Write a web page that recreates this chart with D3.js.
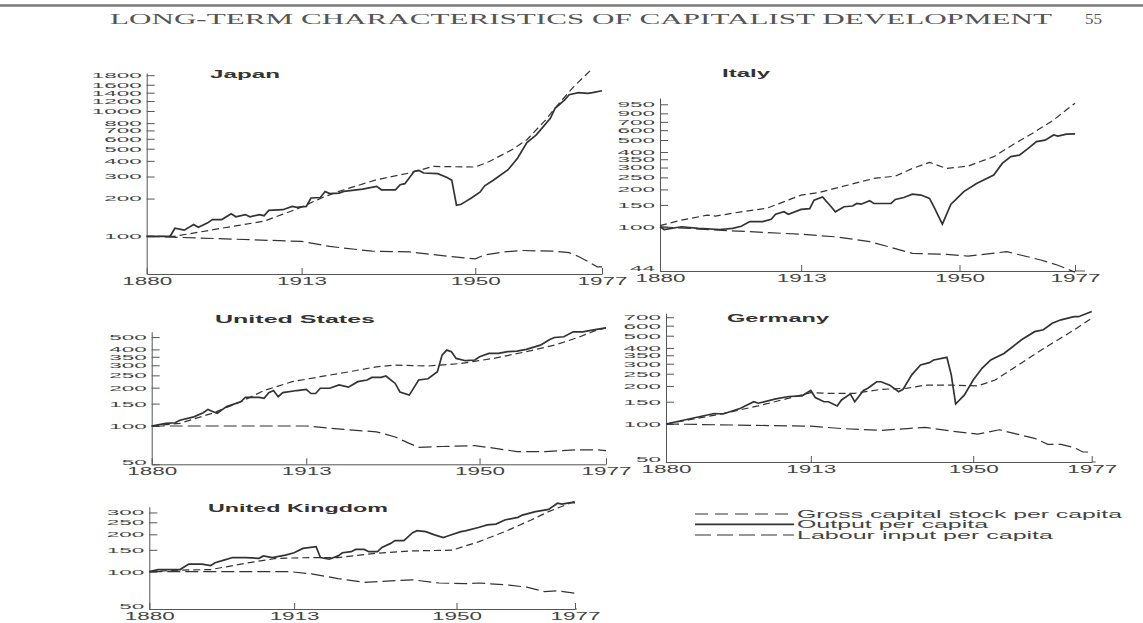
<!DOCTYPE html>
<html>
<head>
<meta charset="utf-8">
<script src="https://cdn.jsdelivr.net/npm/d3@7"></script>
<style>
  body { margin: 0; background: #fff; }
</style>
</head>
<body>
<svg id="chart" width="1143" height="623"></svg>
<script>
// ---- data (index 1880 = 100) ----
var years = [1880, 1913, 1950, 1977];

var japanOutput = [[1880,100],[1885,100],[1886,116],[1888,112],[1890,124],[1891,118],[1893,128],[1894,136],[1896,136],[1898,151],[1899,143],[1901,149],[1902,143],[1904,149],[1905,146],[1906,161],[1909,163],[1911,173],[1912,170],[1914,173],[1915,202],[1917,204],[1918,228],[1919,219],[1921,221],[1922,228],[1926,238],[1929,250],[1930,235],[1933,235],[1934,258],[1935,263],[1937,330],[1938,335],[1939,320],[1942,316],[1944,295],[1945,280],[1946,177],[1947,180],[1948,190],[1949,200],[1951,225],[1952,253],[1954,283],[1957,340],[1959,420],[1961,560],[1963,645],[1966,874],[1967,1050],[1969,1222],[1970,1347],[1972,1400],[1974,1380],[1975,1400],[1977,1450]];
var japanCapital = [[1880,100],[1886,100],[1896,116],[1905,132],[1912,165],[1918,208],[1922,235],[1929,283],[1936,320],[1941,361],[1950,357],[1953,395],[1958,495],[1961,590],[1965,850],[1967,1055],[1971,1566],[1975,2190]];
var japanLabour = [[1880,100],[1913,91],[1919,83],[1928,76],[1936,75],[1943,70],[1950,66],[1952,71],[1956,75],[1960,77],[1967,76],[1970,74],[1972,69],[1974,63],[1976,57],[1977,57]];
// crowded labels on the scan sit a little apart from their exact log spot
var japanTicks = [100,200,300,400,500,600,700,800,1000,1200,1400,1620,1930];
var japanTickLabels = ["100","200","300","400","500","600","700","800","1000","1200","1400","1600","1800"];

var italyOutput = [[1880,100],[1881,95],[1885,100],[1889,97],[1894,95],[1897,97],[1899,101],[1901,110],[1904,110],[1906,115],[1907,126],[1909,132],[1910,126],[1913,138],[1915,140],[1916,164],[1918,174],[1920,145],[1921,132],[1923,145],[1925,147],[1926,154],[1927,152],[1929,162],[1930,154],[1934,154],[1935,166],[1937,172],[1939,183],[1941,180],[1943,169],[1944,145],[1946,105],[1948,152],[1949,164],[1951,192],[1954,223],[1958,261],[1960,324],[1962,367],[1964,378],[1966,426],[1968,485],[1970,499],[1972,549],[1973,538],[1975,558],[1977,560]];
var italyCapital = [[1880,102],[1885,113],[1891,124],[1893,122],[1899,132],[1905,141],[1913,180],[1917,188],[1924,217],[1930,245],[1935,256],[1939,295],[1943,330],[1947,295],[1952,308],[1958,367],[1963,470],[1967,565],[1972,725],[1977,990]];
var italyLabour = [[1880,100],[1896,93],[1913,87],[1921,83],[1929,76],[1939,61],[1947,60],[1952,58],[1961,63],[1969,54],[1973,49],[1977,43]];
var italyTicks = [44,100,150,200,250,300,350,400,500,600,700,820,970];
var italyTickLabels = ["44","100","150","200","250","300","350","400","500","600","700","900","950"];

var usOutput = [[1880,100],[1883,105],[1885,106],[1886,111],[1889,118],[1891,127],[1892,135],[1893,130],[1894,126],[1895,134],[1896,142],[1899,155],[1900,168],[1903,168],[1904,165],[1905,183],[1906,190],[1907,170],[1908,183],[1911,190],[1913,194],[1914,180],[1915,180],[1916,198],[1918,198],[1920,210],[1922,202],[1924,223],[1926,230],[1927,241],[1929,241],[1930,247],[1932,216],[1933,185],[1935,175],[1937,230],[1939,235],[1941,267],[1942,361],[1943,395],[1944,384],[1945,340],[1947,326],[1949,330],[1950,350],[1952,372],[1954,372],[1956,384],[1958,388],[1960,400],[1963,432],[1965,479],[1966,496],[1968,503],[1970,550],[1972,550],[1975,575],[1977,590]];
var usCapital = [[1880,100],[1886,105],[1893,126],[1899,155],[1904,190],[1910,223],[1916,244],[1921,262],[1928,292],[1932,301],[1939,296],[1946,310],[1953,340],[1960,384],[1966,432],[1971,496],[1975,567],[1977,590]];
var usLabour = [[1880,100],[1913,100],[1921,94],[1928,90],[1932,82],[1935,73],[1937,68],[1942,69],[1949,70],[1953,67],[1958,63],[1964,63],[1971,65],[1975,65],[1977,64]];
var usTicks = [50,100,150,200,250,300,350,400,500];
var usTickLabels = ["50","100","150","200","250","300","350","400","500"];

var germanyOutput = [[1880,100],[1886,111],[1891,121],[1893,120],[1897,133],[1900,150],[1901,146],[1905,158],[1908,165],[1911,167],[1913,184],[1914,162],[1916,150],[1917,150],[1919,139],[1920,155],[1922,173],[1923,150],[1925,184],[1926,192],[1928,216],[1929,216],[1931,203],[1933,180],[1934,188],[1936,245],[1938,293],[1940,306],[1941,321],[1944,337],[1945,245],[1946,144],[1948,170],[1950,223],[1952,276],[1954,321],[1957,362],[1959,409],[1961,464],[1964,538],[1966,557],[1968,627],[1970,668],[1973,707],[1974,707],[1976,752],[1977,777]];
var germanyCapital = [[1880,100],[1886,109],[1893,121],[1901,139],[1908,160],[1913,177],[1917,175],[1923,175],[1929,188],[1935,192],[1939,203],[1945,203],[1951,200],[1955,223],[1961,304],[1967,415],[1973,556],[1977,688]];
var germanyLabour = [[1880,100],[1913,96],[1920,92],[1929,89],[1935,92],[1939,94],[1946,87],[1951,83],[1956,90],[1960,83],[1964,77],[1967,69],[1970,69],[1973,65],[1975,60],[1977,60]];
var germanyTicks = [50,100,150,200,250,300,350,400,500,600,700];
var germanyTickLabels = ["50","100","150","200","250","300","350","400","500","600","700"];

var ukOutput = [[1880,100],[1882,104],[1884,104],[1887,104],[1889,115],[1892,115],[1894,112],[1895,118],[1897,124],[1899,130],[1902,130],[1905,128],[1906,134],[1908,130],[1911,136],[1913,142],[1915,154],[1918,159],[1919,130],[1921,126],[1923,134],[1924,142],[1926,145],[1927,151],[1929,151],[1930,145],[1932,145],[1933,157],[1935,169],[1936,178],[1938,178],[1940,206],[1941,214],[1943,210],[1945,198],[1947,188],[1948,194],[1951,210],[1952,213],[1955,227],[1957,238],[1959,242],[1961,261],[1964,274],[1965,286],[1968,305],[1971,318],[1973,356],[1974,351],[1976,360],[1977,360]];
var ukCapital = [[1880,100],[1887,103],[1894,104],[1902,117],[1909,128],[1917,130],[1923,130],[1932,141],[1940,147],[1949,149],[1955,174],[1961,210],[1967,261],[1971,305],[1977,370]];
var ukLabour = [[1880,100],[1912,100],[1917,96],[1923,88],[1929,82],[1940,86],[1946,81],[1952,80],[1955,81],[1962,78],[1966,75],[1970,69],[1973,70],[1977,67]];
var ukTicks = [50,100,150,200,250,300];
var ukTickLabels = ["50","100","150","200","250","300"];

var seriesNames = ["Gross capital stock per capita", "Output per capita", "Labour input per capita"];

// ---- styles ----
var ink = "#333";
var dashes = ["7,4", null, "13,5"];   // capital, output, labour
var widths = [1.2, 1.7, 1.2];
var sans = "'Liberation Sans', Arial, sans-serif";

// panel placement (pixel frame of each small chart)
var panels = [
  { name: "Japan", s: [japanCapital, japanOutput, japanLabour], ticks: japanTicks, labels: japanTickLabels,
    x: [146.7, 602], y: [274, 73], dom: [50, 2010], ext: 0, title: [210, 78, 70] },
  { name: "Italy", s: [italyCapital, italyOutput, italyLabour], ticks: italyTicks, labels: italyTickLabels,
    x: [660, 1075], y: [271, 98], dom: [44, 1090], ext: 10, title: [722, 77, 48] },
  { name: "United States", s: [usCapital, usOutput, usLabour], ticks: usTicks, labels: usTickLabels,
    x: [151.7, 606], y: [464.3, 331.7], dom: [50, 551], ext: 0, title: [215, 323, 160] },
  { name: "Germany", s: [germanyCapital, germanyOutput, germanyLabour], ticks: germanyTicks, labels: germanyTickLabels,
    x: [666, 1091.7], y: [462, 313.3], dom: [50, 752], ext: 4, title: [727, 321.5, 102] },
  { name: "United Kingdom", s: [ukCapital, ukOutput, ukLabour], ticks: ukTicks, labels: ukTickLabels,
    x: [149.3, 575], y: [609, 506.7], dom: [50, 334], ext: 2, title: [208, 511.5, 180] }
];

var svg = d3.select("#chart");
svg.append("rect").attr("width", 1143).attr("height", 623).attr("fill", "#fff");

// running head of the book page
svg.append("line")
  .attr("x1", 0).attr("x2", 1143).attr("y1", 5.5).attr("y2", 5.5)
  .attr("stroke", "#7a7a7a").attr("stroke-width", 2.5);
svg.append("text")
  .attr("x", 110).attr("y", 24)
  .attr("textLength", 942).attr("lengthAdjust", "spacingAndGlyphs")
  .style("font", "14px 'Liberation Serif', serif").style("fill", "#555")
  .text("LONG-TERM CHARACTERISTICS OF CAPITALIST DEVELOPMENT");
svg.append("text")
  .attr("x", 1085).attr("y", 24)
  .attr("textLength", 17).attr("lengthAdjust", "spacingAndGlyphs")
  .style("font", "14px 'Liberation Serif', serif").style("fill", "#555")
  .text("55");

// stretched text helper: the scan is wide, glyphs ~12.5px apart
function stretch(sel, per) {
  sel.attr("lengthAdjust", "spacingAndGlyphs")
    .attr("textLength", function () { return this.textContent.length * per; });
}

panels.forEach(function (p) {
  var x = d3.scaleLinear().domain([1880, 1977]).range(p.x);
  var y = d3.scaleLog().domain(p.dom).range(p.y);
  var g = svg.append("g");

  // y axis, ticks pointing inward
  var ya = g.append("g")
    .attr("transform", "translate(" + p.x[0] + ",0)")
    .call(d3.axisLeft(y).tickValues(p.ticks)
      .tickFormat(function (d, i) { return p.labels[i]; })
      .tickSizeInner(-8).tickSizeOuter(0).tickPadding(5));
  ya.selectAll("text").style("font", "7.5px " + sans).attr("fill", "#444");
  stretch(ya.selectAll("text"), 12.5);
  // lowest label sits just above the x axis on the scan
  ya.selectAll(".tick").filter(function (d) { return d === p.dom[0]; })
    .select("text").attr("y", -2.5);

  // x axis
  var xa = g.append("g")
    .attr("transform", "translate(0," + p.y[0] + ")")
    .call(d3.axisBottom(x).tickValues(years).tickFormat(d3.format("d"))
      .tickSizeInner(-6).tickSizeOuter(0).tickPadding(4));
  xa.selectAll("text").style("font", "10px " + sans).attr("fill", "#444");
  stretch(xa.selectAll("text"), 12.5);
  g.append("line")
    .attr("x1", p.x[1]).attr("x2", p.x[1] + p.ext)
    .attr("y1", p.y[0]).attr("y2", p.y[0])
    .attr("stroke", "#555");
  g.selectAll(".domain, .tick line").attr("stroke", "#555");

  // three series
  var line = d3.line().x(function (d) { return x(d[0]); }).y(function (d) { return y(d[1]); });
  p.s.forEach(function (data, k) {
    g.append("path")
      .datum(data)
      .attr("d", line)
      .attr("fill", "none")
      .attr("stroke", ink)
      .attr("stroke-width", widths[k])
      .attr("stroke-dasharray", dashes[k]);
  });

  // country name
  g.append("text")
    .attr("x", p.title[0]).attr("y", p.title[1])
    .attr("textLength", p.title[2]).attr("lengthAdjust", "spacingAndGlyphs")
    .style("font", "bold 11px " + sans).style("fill", "#333")
    .text(p.name);
});

// legend
var legY = [514, 524.3, 535];
var legW = [325, 191, 256];
[0, 1, 2].forEach(function (k, i) {
  svg.append("line")
    .attr("x1", 695).attr("x2", 794).attr("y1", legY[i]).attr("y2", legY[i])
    .attr("stroke", ink).attr("stroke-width", widths[k])
    .attr("stroke-dasharray", k === 0 ? "13,7" : (k === 2 ? "16,6" : null));
  svg.append("text")
    .attr("x", 797).attr("y", legY[i]).attr("dy", "0.36em")
    .attr("textLength", legW[i]).attr("lengthAdjust", "spacingAndGlyphs")
    .style("font", "10px " + sans).style("fill", "#444")
    .text(seriesNames[k]);
});
</script>
</body>
</html>
